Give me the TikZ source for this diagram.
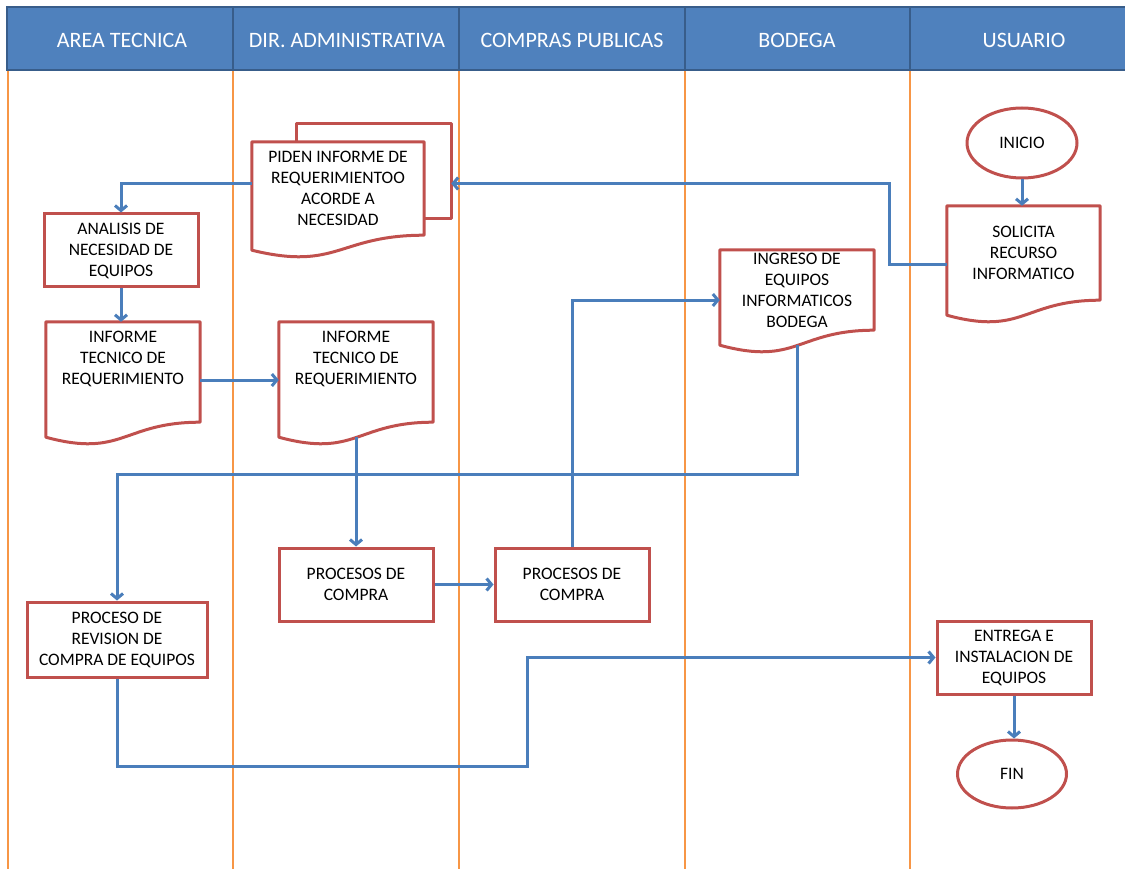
\documentclass[tikz,border=0pt]{standalone}
\usepackage{fontspec}
\setmainfont{Carlito}
\usetikzlibrary{arrows.meta, calc, shapes.geometric}

\definecolor{hdrfill}{HTML}{4F81BD}
\definecolor{hdrline}{HTML}{385D8A}
\definecolor{laneorange}{HTML}{F79646}
\definecolor{boxred}{HTML}{C0504D}
\definecolor{flowblue}{HTML}{4A7EBB}

\tikzset{
  lanehead/.style={text=white, font=\fontsize{22}{26}\selectfont, inner sep=0pt},
  docbox/.style={align=center, font=\fontsize{17.5}{21}\selectfont, inner sep=1pt},
  box/.style={docbox, draw=boxred, line width=3pt},
  docline/.style={draw=boxred, line width=3pt, line join=round},
  terminal/.style={ellipse, box},
  flow/.style={draw=flowblue, line width=3pt, -{Straight Barb[length=5pt,width=12pt]}},
}

% document outline below a text node, #1 = extra drop of the right side
\newcommand{\docshape}[2][0]{%
  \draw[docline] (#2.north west) -- (#2.north east) -- ($(#2.south east)+(0,#1)$)
    .. controls ($(#2.south)+(0,#1)$) and ($(#2.south)+(0,#1+36)$) .. ($(#2.south west)+(0,#1+15)$) -- cycle;}

\begin{document}
\begin{tikzpicture}[x=1pt, y=-1pt]
\useasboundingbox (0,0) rectangle (1125,869);

% lanes
\draw[hdrline, fill=hdrfill, line width=2pt] (7,7) rectangle (1128,70);
\foreach \x in {233,459,685,910}
  \draw[hdrline, line width=2pt] (\x,7) -- (\x,70);
\foreach \x in {8,233,459,685,910}
  \draw[laneorange, line width=2pt] (\x,71) -- (\x,869);
\foreach \x/\lane/\txt in {122/tec/AREA TECNICA, 347/dir/DIR. ADMINISTRATIVA,
    572/com/COMPRAS PUBLICAS, 797/bod/BODEGA, 1024/usu/USUARIO}
  \node[lanehead] (\lane) at (\x,40) {\txt};

% usuario
\node[terminal, minimum width=110pt, minimum height=70pt] (inicio) at (1022,143) {INICIO};
\node[docbox, minimum width=153pt, minimum height=94pt] (solicita) at (1023.5,253) {SOLICITA\\RECURSO\\INFORMATICO};
\docshape{solicita}

% dir. administrativa
\node[docbox, minimum width=172pt, minimum height=93pt] (piden) at (338,188.5) {PIDEN INFORME DE\\REQUERIMIENTOO\\ACORDE A\\NECESIDAD};
\draw[docline] ($(piden.north west)+(45,0)$) -- ++(0,-18) -- ($(piden.north east)+(27,-18)$)
  -- ($(piden.south east)+(27,-17)$) -- ($(piden.south east)+(0,-17)$);
\docshape{piden}

% area tecnica
\node[box, minimum width=154pt, minimum height=73pt] (analisis) at (121,250.5) {ANALISIS DE\\NECESIDAD DE\\EQUIPOS};
\node[docbox, minimum width=154pt, minimum height=74pt] (informeA) at (123,359) {INFORME\\TECNICO DE\\REQUERIMIENTO};
\docshape[26]{informeA}
\node[docbox, minimum width=154pt, minimum height=74pt] (informeB) at (356,359) {INFORME\\TECNICO DE\\REQUERIMIENTO};
\docshape[26]{informeB}

\node[box, minimum width=154pt, minimum height=73pt] (procA) at (356,584.5) {PROCESOS DE\\COMPRA};
\node[box, minimum width=154pt, minimum height=73pt] (procB) at (572,584.5) {PROCESOS DE\\COMPRA};

% bodega
\node[docbox, minimum width=154pt, minimum height=80pt] (ingreso) at (797,290) {INGRESO DE\\EQUIPOS\\INFORMATICOS\\BODEGA};
\docshape{ingreso}

\node[box, minimum width=180pt, minimum height=75pt] (revision) at (117,639.5) {PROCESO DE\\REVISION DE\\COMPRA DE EQUIPOS};
\node[box, minimum width=154pt, minimum height=73pt] (entrega) at (1014,657.5) {ENTREGA E\\INSTALACION DE\\EQUIPOS};
\node[terminal, minimum width=109pt, minimum height=68pt] (fin) at (1012,774) {FIN};

% connectors
\draw[flow] (inicio.south) -- (inicio.south |- solicita.north);
\draw[flow] ([yshift=-12pt]solicita.west) -- ++(-57,0) |- ([xshift=27pt,yshift=5pt]piden.east);
\draw[flow] ([yshift=5pt]piden.west) -| (analisis.north);
\draw[flow] (analisis.south) -- (analisis.south |- informeA.north);
\draw[flow] ([yshift=-21pt]informeA.east) -- ([yshift=-21pt]informeB.west);
\draw[flow] ($(informeB.south)+(0,41)$) -- (procA.north);
\draw[flow] (procA.east) -- (procB.west);
\draw[flow] (procB.north) |- ([yshift=-10pt]ingreso.west);
\draw[flow] ($(ingreso.south)+(0,15)$) -- ++(0,129) -| (revision.north);
\draw[flow] (revision.south) -- ++(0,88) -- ++(410,0) |- (entrega.west);
\draw[flow] (entrega.south) -- (entrega.south |- fin.north);
\end{tikzpicture}
\end{document}
